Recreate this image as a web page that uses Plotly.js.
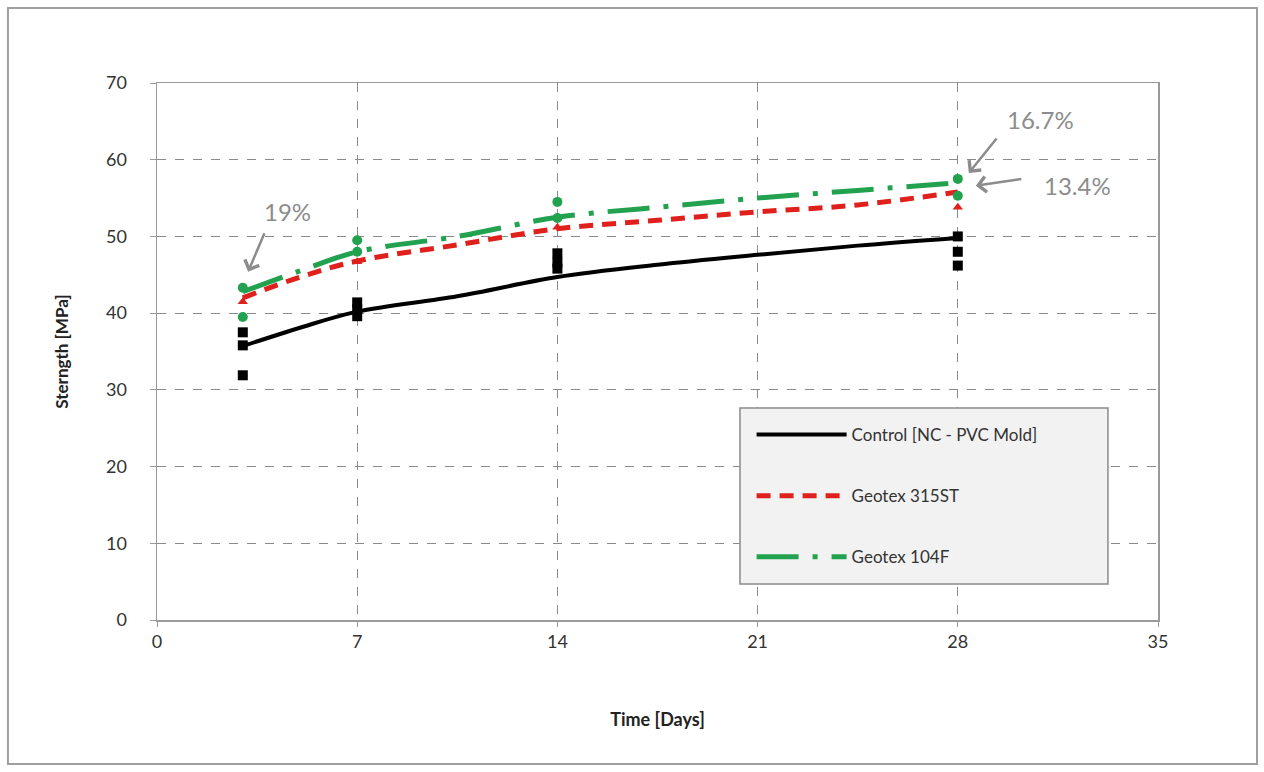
<!DOCTYPE html>
<html>
<head>
<meta charset="utf-8">
<script src="https://cdn.plot.ly/plotly-3.0.1.min.js"></script>
<style>html,body{margin:0;padding:0;background:#fff;}#chart{width:1264px;height:772px;}</style>
</head>
<body>
<div id="chart"></div>
<script>
// Trend curves
const trendDays = [3, 5, 7, 10.5, 14, 17.5, 21, 24.5, 28];
const controlTrend = [35.7, 38.1, 40.2, 42.2, 44.7, 46.3, 47.6, 48.8, 49.8];
const geo315Trend = [42.0, 44.7, 46.8, 48.9, 51.0, 52.1, 53.2, 54.1, 55.8];
const geo104Trend = [42.8, 45.5, 48.0, 50.0, 52.5, 53.8, 55.0, 56.0, 57.0];

// Measured specimens
const controlDays = [3, 3, 3, 7, 7, 7, 14, 14, 14, 28, 28, 28];
const controlVals = [37.5, 35.8, 31.9, 41.4, 40.5, 39.6, 47.8, 46.6, 45.8, 50.0, 48.0, 46.2];
const geo315Days = [3, 7, 14, 28];
const geo315Vals = [41.5, 46.7, 51.2, 53.8];
const geo104Days = [3, 3, 7, 7, 14, 14, 28, 28];
const geo104Vals = [43.3, 39.5, 49.5, 48.0, 54.5, 52.4, 57.5, 55.3];

const seriesNames = ['Control [NC - PVC Mold]', 'Geotex 315ST', 'Geotex 104F'];
const xTicks = [0, 7, 14, 21, 28, 35];
const yTicks = [0, 10, 20, 30, 40, 50, 60, 70];

const traces = [
  {x: trendDays, y: controlTrend, mode: 'lines', name: seriesNames[0], legendgroup: 'a',
   line: {color: '#000000', width: 4, shape: 'spline'}},
  {x: trendDays, y: geo315Trend, mode: 'lines', name: seriesNames[1], legendgroup: 'b',
   line: {color: '#e0201c', width: 5, shape: 'spline', dash: '14px,9px'}},
  {x: trendDays, y: geo104Trend, mode: 'lines', name: seriesNames[2], legendgroup: 'c',
   line: {color: '#22a24f', width: 5, shape: 'spline', dash: '42px,14px,5px,14px'}},
  {x: controlDays, y: controlVals, mode: 'markers', showlegend: false,
   marker: {symbol: 'square', color: '#000000', size: 10}},
  {x: geo315Days, y: geo315Vals, mode: 'markers', showlegend: false,
   marker: {symbol: 'triangle-up', color: '#e0201c', size: 9}},
  {x: geo104Days, y: geo104Vals, mode: 'markers', showlegend: false,
   marker: {symbol: 'circle', color: '#22a24f', size: 10}}
];

const fontFam = 'Lato, "Open Sans", sans-serif';
const layout = {
  width: 1264, height: 772,
  margin: {l: 157, r: 106, t: 83, b: 152},
  paper_bgcolor: '#ffffff', plot_bgcolor: '#ffffff',
  font: {family: fontFam, color: '#333333', size: 17},
  showlegend: true,
  xaxis: {
    range: [0, 35], tickvals: xTicks, ticktext: xTicks.map(String),
    showgrid: true, gridcolor: '#8a8a8a', griddash: 'dash', gridwidth: 1,
    showline: true, linecolor: '#9a9a9a', linewidth: 1.5, mirror: true,
    ticks: 'outside', ticklen: 5, tickcolor: '#9a9a9a', zeroline: false,
    tickfont: {size: 18, color: '#333333'},
    title: {text: '<b>Time [Days]</b>', font: {size: 18, color: '#222222'}, standoff: 62}
  },
  yaxis: {
    range: [0, 70], tickvals: yTicks, ticktext: yTicks.map(String),
    showgrid: true, gridcolor: '#8a8a8a', griddash: 'dash', gridwidth: 1,
    showline: true, linecolor: '#9a9a9a', linewidth: 1.5, mirror: true,
    ticks: 'outside', ticklen: 6, tickcolor: '#9a9a9a', zeroline: false,
    ticklabelstandoff: 19,
    tickfont: {size: 18, color: '#333333'},
    title: {text: '<b>Sterngth [MPa]</b>', font: {size: 17, color: '#222222'}, standoff: 33}
  },
  legend: {
    x: 0.594, y: 0.378, xanchor: 'left', yanchor: 'top',
    bgcolor: 'rgba(0,0,0,0)', borderwidth: 0,
    font: {size: 17, color: '#333333'}, tracegroupgap: 36, itemwidth: 90,
    traceorder: 'grouped'
  },
  annotations: [
    {x: 3.185, y: 45.4, xref: 'x', yref: 'y', text: '', showarrow: true,
     axref: 'pixel', ayref: 'pixel', ax: 17, ay: -40, arrowhead: 4, arrowsize: 1.2,
     arrowwidth: 2.5, arrowcolor: '#8c8c8c'},
    {x: 4.55, y: 53.2, xref: 'x', yref: 'y', text: '19%', showarrow: false,
     font: {size: 24, color: '#8c8c8c'}},
    {x: 28.385, y: 58.27, xref: 'x', yref: 'y', text: '', showarrow: true,
     ax: 29, ay: -36, arrowhead: 4, arrowsize: 1.2, arrowwidth: 2.5, arrowcolor: '#8c8c8c'},
    {x: 30.9, y: 65.2, xref: 'x', yref: 'y', text: '16.7%', showarrow: false,
     font: {size: 24, color: '#8c8c8c'}},
    {x: 28.63, y: 56.6, xref: 'x', yref: 'y', text: '', showarrow: true,
     ax: 47, ay: -7, arrowhead: 4, arrowsize: 1.2, arrowwidth: 2.5, arrowcolor: '#8c8c8c'},
    {x: 32.2, y: 56.6, xref: 'x', yref: 'y', text: '13.4%', showarrow: false,
     font: {size: 24, color: '#8c8c8c'}}
  ],
  shapes: [
    {type: 'rect', xref: 'paper', yref: 'paper', x0: -0.1489, x1: 1.0989, y0: -0.268, y1: 1.1397,
     line: {color: '#a0a0a0', width: 2}, fillcolor: 'rgba(0,0,0,0)', layer: 'below'},
    // legend box
    {type: 'rect', xref: 'paper', yref: 'paper', x0: 0.5824, x1: 0.9500, y0: 0.0672, y1: 0.3948,
     line: {color: '#8a8a8a', width: 1.5}, fillcolor: '#f2f2f2', layer: 'above'}
  ]
};

Plotly.newPlot('chart', traces, layout, {displayModeBar: false, staticPlot: true});
</script>
</body>
</html>
